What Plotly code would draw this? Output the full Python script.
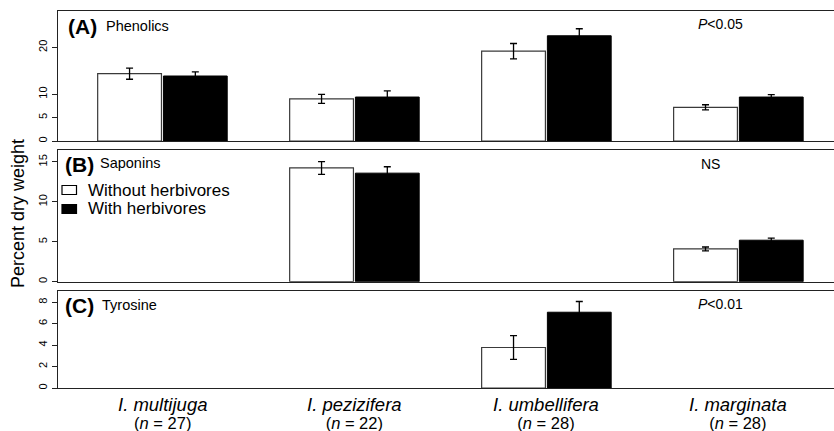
import plotly.graph_objects as go
from plotly.subplots import make_subplots

# ---------------- data ----------------
species = ["I. multijuga", "I. pezizifera", "I. umbellifera", "I. marginata"]
n_values = [27, 22, 28, 28]

phen_without = [14.4, 9.0, 19.2, 7.2]
phen_without_se = [1.2, 0.95, 1.65, 0.55]
phen_with = [13.9, 9.4, 22.5, 9.4]
phen_with_se = [0.9, 1.3, 1.5, 0.5]

sap_without = [None, 14.25, None, 4.1]
sap_without_se = [None, 0.8, None, 0.25]
sap_with = [None, 13.6, None, 5.2]
sap_with_se = [None, 0.8, None, 0.25]

tyr_without = [None, None, 3.78, None]
tyr_without_se = [None, None, 1.1, None]
tyr_with = [None, None, 7.07, None]
tyr_with_se = [None, None, 1.0, None]

panel_letters = ["(A)", "(B)", "(C)"]
panel_names = ["Phenolics", "Saponins", "Tyrosine"]
panel_stats = ["<i>P</i><0.05", "NS", "<i>P</i><0.01"]
y_ranges = [[0, 27.8], [0, 16.5], [0, 9.05]]
y_ticks = [[0, 5, 10, 20], [0, 5, 10, 15], [0, 2, 4, 6, 8]]
legend_names = ["Without herbivores", "With herbivores"]
legend_fills = ["white", "black"]

FONT = "Liberation Sans, Arial, sans-serif"

# ---------------- layout geometry (pixels) ----------------
W, H = 834, 431
ML, MR, MT, MB = 58, 0, 11, 43
PW, PH = W - ML - MR, H - MT - MB


def px(x):
    return (x - ML) / PW


def py(y):
    return (H - MB - y) / PH


fig = make_subplots(rows=3, cols=1, shared_xaxes=False, vertical_spacing=0.02)

panels = [
    (phen_without, phen_without_se, phen_with, phen_with_se),
    (sap_without, sap_without_se, sap_with, sap_with_se),
    (tyr_without, tyr_without_se, tyr_with, tyr_with_se),
]

for i, (wo, wo_se, wi, wi_se) in enumerate(panels):
    row = i + 1
    fig.add_trace(go.Bar(
        x=species, y=wo, name=legend_names[0],
        marker=dict(color="white", line=dict(color="#3a3a3a", width=1.2)),
        error_y=dict(type="data", array=wo_se, visible=True, color="black",
                     thickness=1.3, width=3.5),
        showlegend=False, hoverinfo="skip",
    ), row=row, col=1)
    fig.add_trace(go.Bar(
        x=species, y=wi, name=legend_names[1],
        marker=dict(color="black", line=dict(color="black", width=1)),
        error_y=dict(type="data", array=wi_se, visible=True, color="black",
                     thickness=1.3, width=3.5),
        showlegend=False, hoverinfo="skip",
    ), row=row, col=1)

# domains from pixel positions
domains = [
    [py(141), 1.0],
    [py(281.7), py(150)],
    [0.0, py(291)],
]

for i in range(3):
    xa = "xaxis" if i == 0 else f"xaxis{i+1}"
    ya = "yaxis" if i == 0 else f"yaxis{i+1}"
    fig.layout[xa].update(
        range=[-0.544, 3.498], showline=True, mirror=True, linecolor="#222",
        linewidth=1.3, ticks="", showticklabels=False, showgrid=False,
        zeroline=False, categoryorder="array", categoryarray=species,
    )
    fig.layout[ya].update(
        domain=domains[i], range=y_ranges[i], tickvals=y_ticks[i],
        showline=True, linecolor="#222", linewidth=1.3, ticks="outside",
        ticklen=5, tickcolor="#222", tickangle=-90, showgrid=False,
        zeroline=False, tickfont=dict(family=FONT, size=11, color="black"),
    )

annotations = []
shapes = []
# panel letters, names and statistics
letter_pos = [(66, 26), (63, 164), (63, 305)]
name_pos = [(104, 26), (98, 163), (100, 305)]
stat_pos = [(720, 24), (710, 164), (720, 304)]
for i in range(3):
    lx, ly = letter_pos[i]
    annotations.append(dict(x=px(lx), y=py(ly), xref="paper", yref="paper",
                            text=f"<b>{panel_letters[i]}</b>", showarrow=False,
                            xanchor="left", yanchor="middle",
                            font=dict(family=FONT, size=21, color="black")))
    nx, ny = name_pos[i]
    annotations.append(dict(x=px(nx), y=py(ny), xref="paper", yref="paper",
                            text=panel_names[i], showarrow=False,
                            xanchor="left", yanchor="middle",
                            font=dict(family=FONT, size=14.5, color="black")))
    sx, sy = stat_pos[i]
    annotations.append(dict(x=px(sx), y=py(sy), xref="paper", yref="paper",
                            text=panel_stats[i], showarrow=False,
                            xanchor="center", yanchor="middle",
                            font=dict(family=FONT, size=14, color="black")))

# legend (drawn inside panel B)
leg_rows = [190, 209]
for name, fill, ly in zip(legend_names, legend_fills, leg_rows):
    shapes.append(dict(type="rect", xref="paper", yref="paper",
                       x0=px(62), x1=px(76.5), y0=py(ly + 4.5), y1=py(ly - 4.5),
                       fillcolor=fill, line=dict(color="black", width=1.2)))
    annotations.append(dict(x=px(86), y=py(ly), xref="paper", yref="paper",
                            text=name, showarrow=False,
                            xanchor="left", yanchor="middle",
                            font=dict(family=FONT, size=17, color="black")))

# species and sample-size labels below bottom panel (one two-line label each)
for sp, n in zip(species, n_values):
    label = (f"<span style='font-size:18.5px'><i>{sp}</i></span><br>"
             f"<span style='font-size:16.5px'>(<i>n</i> = {n})</span>")
    annotations.append(dict(x=sp, y=py(413), xref="x3", yref="paper",
                            text=label, showarrow=False,
                            xanchor="center", yanchor="middle",
                            font=dict(family=FONT, size=14, color="black")))

# y-axis title
annotations.append(dict(x=px(18), y=py(214), xref="paper", yref="paper",
                        text="Percent dry weight", showarrow=False, textangle=-90,
                        xanchor="center", yanchor="middle",
                        font=dict(family=FONT, size=18, color="black")))

fig.update_layout(
    width=W, height=H,
    margin=dict(l=ML, r=MR, t=MT, b=MB, pad=0),
    paper_bgcolor="white", plot_bgcolor="white",
    barmode="group", bargap=0.315, bargroupgap=0.03,
    showlegend=False,
    annotations=annotations,
    shapes=shapes,
    font=dict(family=FONT, color="black"),
)

fig.write_html("out.html",
               config={"displayModeBar": False, "staticPlot": True},
               post_script="document.body.style.margin='0';"
                           "document.body.style.overflow='hidden';")
